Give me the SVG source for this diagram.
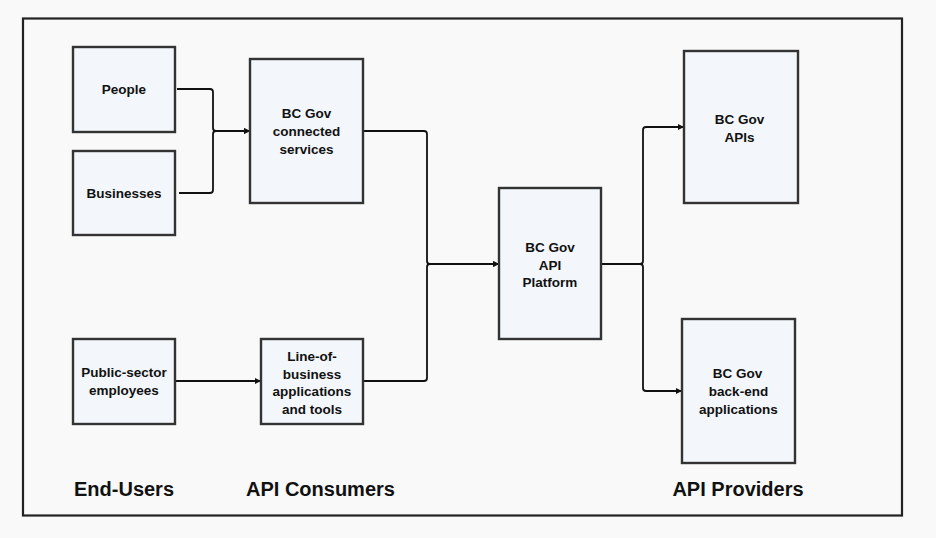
<svg xmlns="http://www.w3.org/2000/svg" width="936" height="538" viewBox="0 0 936 538">
<style>
.bg{fill:#f9f9f9}
.frame{fill:#f9f9f9;stroke:#222;stroke-width:2.2}
.box{fill:#f3f7fb;stroke:#333;stroke-width:2.4}
.t{font-family:"Liberation Sans",Arial,sans-serif;font-weight:bold;font-size:13.5px;fill:#111;text-anchor:middle}
.h{font-family:"Liberation Sans",Arial,sans-serif;font-weight:bold;font-size:20px;fill:#111}
.c{fill:none;stroke:#111;stroke-width:1.8}
</style>
<defs>
<marker id="arr" markerWidth="8" markerHeight="8" refX="6" refY="4" orient="auto" markerUnits="userSpaceOnUse">
<path d="M0,1 L6,4 L0,7 Z" fill="#111"/>
</marker>
</defs>
<rect class="bg" x="0" y="0" width="936" height="538"/>
<rect class="frame" x="23" y="18.5" width="879" height="497"/>
<g id="connectors">
<path class="c" marker-end="url(#arr)" d="M177,89 H210 Q213,89 213,92 V128 Q213,131 216,131 H250"/>
<path class="c" marker-end="url(#arr)" d="M179,193 H210 Q213,193 213,190 V134 Q213,131 216,131 H250"/>
<path class="c" marker-end="url(#arr)" d="M364,131 H424 Q427,131 427,134 V261 Q427,264 430,264 H499"/>
<path class="c" marker-end="url(#arr)" d="M364,381 H424 Q427,381 427,378 V267 Q427,264 430,264 H499"/>
<path class="c" marker-end="url(#arr)" d="M176,381 H261"/>
<path class="c" marker-end="url(#arr)" d="M601,264 H640 Q643,264 643,261 V130 Q643,127 646,127 H684"/>
<path class="c" marker-end="url(#arr)" d="M601,264 H640 Q643,264 643,267 V388 Q643,391 646,391 H682"/>
</g>
<g id="people">
<rect class="box" x="73" y="47" width="102" height="85"/>
<text class="t" x="124" y="94">People</text>
</g>
<g id="businesses">
<rect class="box" x="73" y="151" width="102" height="84"/>
<text class="t" x="124" y="197.5">Businesses</text>
</g>
<g id="connected-services">
<rect class="box" x="250" y="59" width="113" height="144"/>
<text class="t" x="306.5" y="118">BC Gov</text>
<text class="t" x="306.5" y="136">connected</text>
<text class="t" x="306.5" y="154">services</text>
</g>
<g id="public-sector">
<rect class="box" x="73" y="339" width="102" height="85"/>
<text class="t" x="124" y="377">Public-sector</text>
<text class="t" x="124" y="395">employees</text>
</g>
<g id="line-of-business">
<rect class="box" x="261" y="339" width="102" height="85"/>
<text class="t" x="312" y="361">Line-of-</text>
<text class="t" x="312" y="378.5">business</text>
<text class="t" x="312" y="396">applications</text>
<text class="t" x="312" y="413.5">and tools</text>
</g>
<g id="api-platform">
<rect class="box" x="499" y="188" width="102" height="151"/>
<text class="t" x="550" y="251.5">BC Gov</text>
<text class="t" x="550" y="269.5">API</text>
<text class="t" x="550" y="287">Platform</text>
</g>
<g id="apis">
<rect class="box" x="684" y="51" width="114" height="152"/>
<text class="t" x="739.5" y="123.5">BC Gov</text>
<text class="t" x="739.5" y="141.5">APIs</text>
</g>
<g id="back-end">
<rect class="box" x="682" y="319" width="113" height="144"/>
<text class="t" x="737.5" y="378">BC Gov</text>
<text class="t" x="738.5" y="396">back-end</text>
<text class="t" x="738.5" y="414">applications</text>
</g>
<g id="labels">
<text class="h" x="74" y="496">End-Users</text>
<text class="h" x="246" y="496">API Consumers</text>
<text class="h" x="738" y="496" text-anchor="middle">API Providers</text>
</g>
</svg>
